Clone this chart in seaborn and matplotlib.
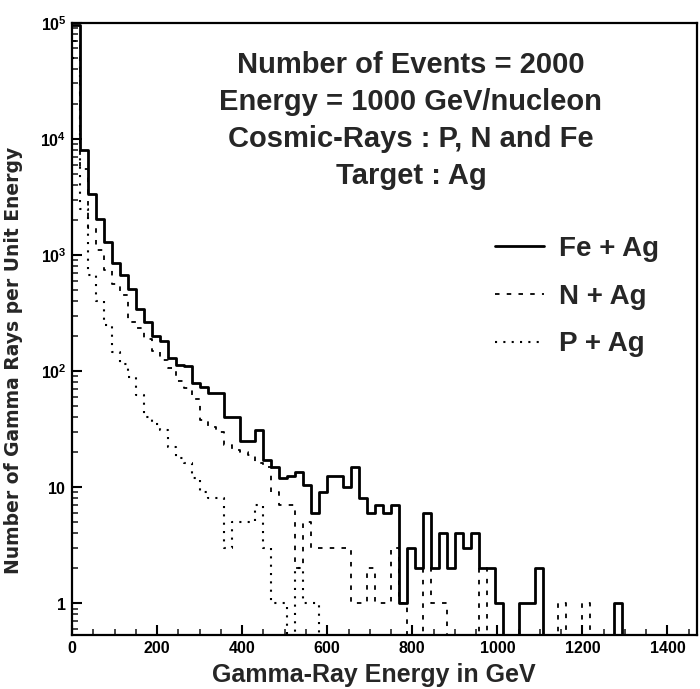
import numpy as np
import pandas as pd
import matplotlib
matplotlib.use("Agg")
import matplotlib.pyplot as plt
import seaborn as sns
from matplotlib.lines import Line2D
from matplotlib.ticker import FixedLocator, MultipleLocator, LogLocator, NullFormatter

# ---------------- data ----------------
BIN_WIDTH = 18.75  # GeV per histogram bin

fe_ag = [95000, 8000, 3350, 2030, 1280, 860, 675, 513, 344, 267,
         202, 180, 129, 112, 110, 79, 73, 65, 65, 40,
         40, 25, 25, 31, 17, 15, 12, 12.5, 13.5, 10.5,
         6, 9, 12.5, 12.5, 10, 15, 8, 6, 7, 6,
         7, 1, 3, 2, 6, 2, 4, 2, 4, 3,
         4, 2, 2, 1, 0, 0, 1, 1, 2, 0,
         0, 0, 0, 0, 0, 0, 0, 0, 1, 0,
         0, 0, 0, 0, 0, 0, 0, 0, 0, 0]

n_ag = [70000, 5500, 1700, 1100, 740, 560, 450, 267, 235, 190,
        150, 125, 107, 82, 72, 57, 38, 33, 30, 23,
        21, 20, 19, 16, 15, 9, 7, 7, 2, 5,
        3, 3, 3, 3, 3, 1, 1, 2, 1, 1,
        3, 1, 0, 0, 2, 1, 1, 0, 0, 0,
        0, 2, 0, 0, 0, 0, 0, 0, 0, 0,
        0, 1, 0, 0, 1, 0, 0, 0, 0, 0,
        0, 0, 0, 0, 0, 0, 0, 0, 0, 0]

p_ag = [50000, 2500, 670, 400, 250, 145, 115, 89, 62, 40,
        35, 31, 22, 18, 16, 12, 9, 8, 8, 3,
        5, 5, 5, 7, 3, 1, 1, 0, 2, 1,
        1, 0, 0, 0, 0, 0, 0, 0, 0, 0,
        0, 0, 0, 0, 0, 0, 0, 0, 0, 0,
        0, 0, 0, 0, 0, 0, 0, 0, 0, 0,
        0, 0, 0, 0, 0, 0, 0, 0, 0, 0,
        0, 0, 0, 0, 0, 0, 0, 0, 0, 0]

series_labels = ["Fe + Ag", "N + Ag", "P + Ag"]
x_ticks = [0, 200, 400, 600, 800, 1000, 1200, 1400]
y_ticks = [1, 10, 100, 1000, 10000, 100000]
y_tick_labels = [r"$\mathbf{1}$", r"$\mathbf{10}$", r"$\mathbf{10^{2}}$",
                 r"$\mathbf{10^{3}}$", r"$\mathbf{10^{4}}$", r"$\mathbf{10^{5}}$"]
info_lines = ["Number of Events = 2000",
              "Energy = 1000 GeV/nucleon",
              "Cosmic-Rays : P, N and Fe",
              "Target : Ag"]
x_label = "Gamma-Ray Energy in GeV"
y_label = "Number of Gamma Rays per Unit Energy"

# ---------------- build table ----------------
n_bins = len(fe_ag)
edges = [i * BIN_WIDTH for i in range(n_bins + 1)]
centers = [e + BIN_WIDTH / 2 for e in edges[:-1]]
df = pd.DataFrame({
    "energy": centers * 3,
    "rate": [float(v) for v in fe_ag + n_ag + p_ag],
    "reaction": [lab for lab in series_labels for _ in range(n_bins)],
})

# ---------------- style ----------------
sns.set_style("ticks")
plt.rcParams["font.family"] = ["Liberation Sans", "DejaVu Sans"]
plt.rcParams["mathtext.fontset"] = "custom"
plt.rcParams["mathtext.rm"] = "Liberation Sans"
plt.rcParams["mathtext.bf"] = "Liberation Sans:bold"

fig = plt.figure(figsize=(7.0, 6.89), dpi=100)
ax = fig.add_axes([0.103, 0.078, 0.893, 0.889])

styles = {
    "Fe + Ag": dict(linewidth=2.0, linestyle="-"),
    "N + Ag": dict(linewidth=1.3, linestyle=(0, (2.5, 4.0))),
    "P + Ag": dict(linewidth=1.5, linestyle=(0, (1, 3.0))),
}
for lab in series_labels:
    sub = df[df["reaction"] == lab].reset_index(drop=True)
    sns.histplot(data=sub, x="energy", weights="rate", bins=edges,
                 element="step", fill=False, color="black", ax=ax,
                 **styles[lab])

ax.set_yscale("log")
ax.set_xlim(0, 1470)
ax.set_ylim(0.53, 1e5)

ax.xaxis.set_major_locator(FixedLocator(x_ticks))
ax.set_xticklabels([str(t) for t in x_ticks], fontweight="bold", fontsize=11.5)
ax.xaxis.set_minor_locator(MultipleLocator(50))
ax.yaxis.set_major_locator(FixedLocator(y_ticks))
ax.set_yticklabels(y_tick_labels, fontsize=11.5)
ax.yaxis.set_minor_locator(LogLocator(base=10, subs=np.arange(2, 10)))
ax.yaxis.set_minor_formatter(NullFormatter())
ax.tick_params(which="major", direction="in", length=7, width=1.5,
               top=False, right=False, pad=4, colors="black")
ax.tick_params(which="minor", direction="in", length=4, width=1.2,
               top=False, right=False)

for sp in ax.spines.values():
    sp.set_linewidth(1.6)
    sp.set_color("black")

ax.set_xlabel(x_label, fontsize=18, fontweight="bold")
ax.xaxis.set_label_coords(0.483, -0.046)
ax.set_ylabel(y_label, fontsize=13.5, fontweight="bold",
              family=["DejaVu Sans"])
ax.yaxis.set_label_coords(-0.078, 0.448)

info_y = [0.931, 0.871, 0.810, 0.750]
for txt, yy in zip(info_lines, info_y):
    ax.text(0.542, yy, txt, transform=ax.transAxes, ha="center", va="center",
            fontsize=21, fontweight="bold")

handles = [Line2D([], [], color="black", **styles[lab]) for lab in series_labels]
ax.legend(handles, series_labels, loc="upper left", bbox_to_anchor=(0.677, 0.652),
          frameon=False, prop={"size": 20, "weight": "bold"},
          handlelength=1.75, handletextpad=0.55, labelspacing=0.78,
          borderaxespad=0.0, borderpad=0.0)

fig.savefig("out.png", dpi=100)
